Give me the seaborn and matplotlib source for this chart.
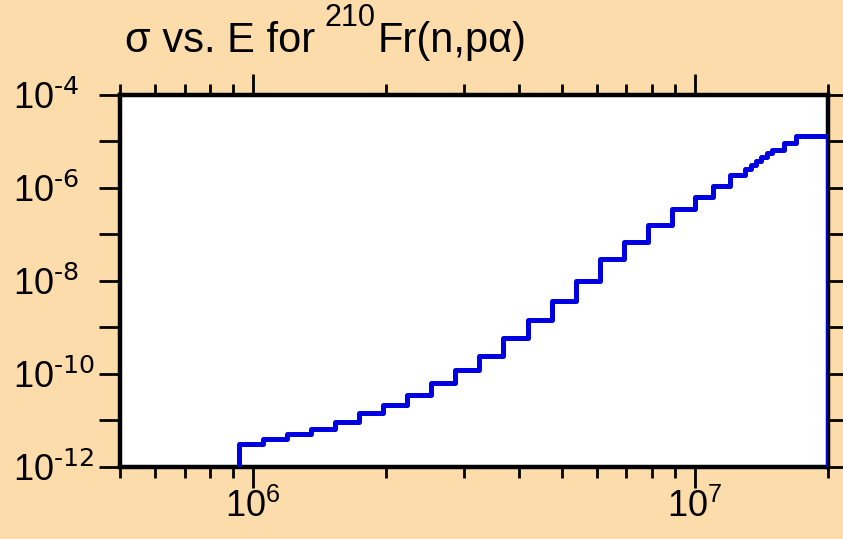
import numpy as np
import pandas as pd
import matplotlib
matplotlib.use("Agg")
import matplotlib.pyplot as plt
import matplotlib.ticker as mticker
import seaborn as sns

# energy bin edges (eV) and cross section per bin
energy_edges = [9.3e5, 1.054e6, 1.195e6, 1.354e6, 1.534e6, 1.739e6, 1.971e6,
                2.234e6, 2.532e6, 2.871e6, 3.254e6, 3.688e6, 4.18e6, 4.738e6,
                5.372e6, 6.088e6, 6.902e6, 7.823e6, 8.868e6, 1.0e7, 1.1e7,
                1.2e7, 1.3e7, 1.34e7, 1.375e7, 1.41e7, 1.457e7, 1.495e7,
                1.59e7, 1.69e7, 2.0e7]
cross_section = [3.13e-12, 4.0e-12, 5.13e-12, 6.56e-12, 9.29e-12, 1.45e-11,
                 2.15e-11, 3.53e-11, 6.4e-11, 1.22e-10, 2.44e-10, 5.95e-10,
                 1.45e-9, 3.71e-9, 1.0e-8, 2.97e-8, 6.9e-8, 1.6e-7, 3.53e-7,
                 6.4e-7, 1.1e-6, 1.9e-6, 2.56e-6, 3.13e-6, 3.81e-6, 4.65e-6,
                 5.66e-6, 6.57e-6, 9.29e-6, 1.31e-5]
floor_value = 1e-13

y_major = [1e-12, 1e-11, 1e-10, 1e-9, 1e-8, 1e-7, 1e-6, 1e-5, 1e-4]
x_major = [1e6, 1e7]

sns.set_style("ticks")
plt.rcParams["font.family"] = ["Liberation Sans", "DejaVu Sans"]
plt.rcParams["mathtext.default"] = "regular"

bg = "#fddcab"
fs_tick = 26
fs_title = 30
fig = plt.figure(figsize=(8.43, 5.39), dpi=100, facecolor=bg)
ax = fig.add_axes([0.1423, 0.1336, 0.8399, 0.6902])
ax.set_facecolor("white")

df = pd.DataFrame({
    "E": [energy_edges[0]] + energy_edges,
    "sigma": [floor_value] + cross_section + [floor_value],
})
sns.lineplot(data=df, x="E", y="sigma", estimator=None, sort=False,
             drawstyle="steps-post", color="#0000e0", linewidth=3.6,
             ax=ax, zorder=3)

ax.set_xscale("log")
ax.set_yscale("log")
ax.set_xlim(5e5, 2e7)
ax.set_ylim(1e-12, 1e-4)
ax.set_xlabel("")
ax.set_ylabel("")

for s in ax.spines.values():
    s.set_visible(True)
    s.set_linewidth(3.2)
    s.set_color("black")


def exp_label(v):
    e = int(round(np.log10(v)))
    if e < 0:
        return r"$10^{\text{-%d}}$" % (-e)
    return r"$10^{%d}$" % e


ax.xaxis.set_major_locator(mticker.FixedLocator(x_major))
ax.xaxis.set_minor_locator(mticker.LogLocator(base=10, subs=np.arange(2, 10), numticks=20))
ax.xaxis.set_major_formatter(mticker.FuncFormatter(lambda v, p: exp_label(v)))
ax.xaxis.set_minor_formatter(mticker.NullFormatter())

ax.yaxis.set_major_locator(mticker.FixedLocator(y_major))
ax.yaxis.set_minor_locator(mticker.NullLocator())
ax.yaxis.set_major_formatter(mticker.FuncFormatter(
    lambda v, p: exp_label(v) if int(round(np.log10(v))) % 2 == 0 else ""))

ax.tick_params(axis="both", which="major", direction="out", length=15,
               width=2, color="black", labelsize=fs_tick, labelcolor="black")
ax.tick_params(axis="x", which="major", top=True, bottom=True, pad=1)
ax.tick_params(axis="x", which="minor", top=True, bottom=True,
               direction="out", length=8, width=2, color="black")
ax.tick_params(axis="y", which="major", left=True, right=True, pad=62)
for lab in ax.get_yticklabels():
    lab.set_horizontalalignment("left")

# title built from pieces so the isotope mass sits high like the original
t1 = fig.text(125 / 843, 1 - 52 / 539, "σ vs. E for", fontsize=fs_title,
              ha="left", va="baseline", color="black")
t2 = ax.annotate("210", xy=(1, 0), xycoords=t1, xytext=(7, 20),
                 textcoords="offset points", fontsize=22, ha="left",
                 va="bottom", color="black", annotation_clip=False)
t3 = ax.annotate("Fr(n,pα)", xy=(1, 0), xycoords=t2, xytext=(1, -20),
                 textcoords="offset points", fontsize=fs_title, ha="left",
                 va="bottom", color="black", annotation_clip=False)

fig.savefig("out.png", dpi=100, facecolor=bg)
